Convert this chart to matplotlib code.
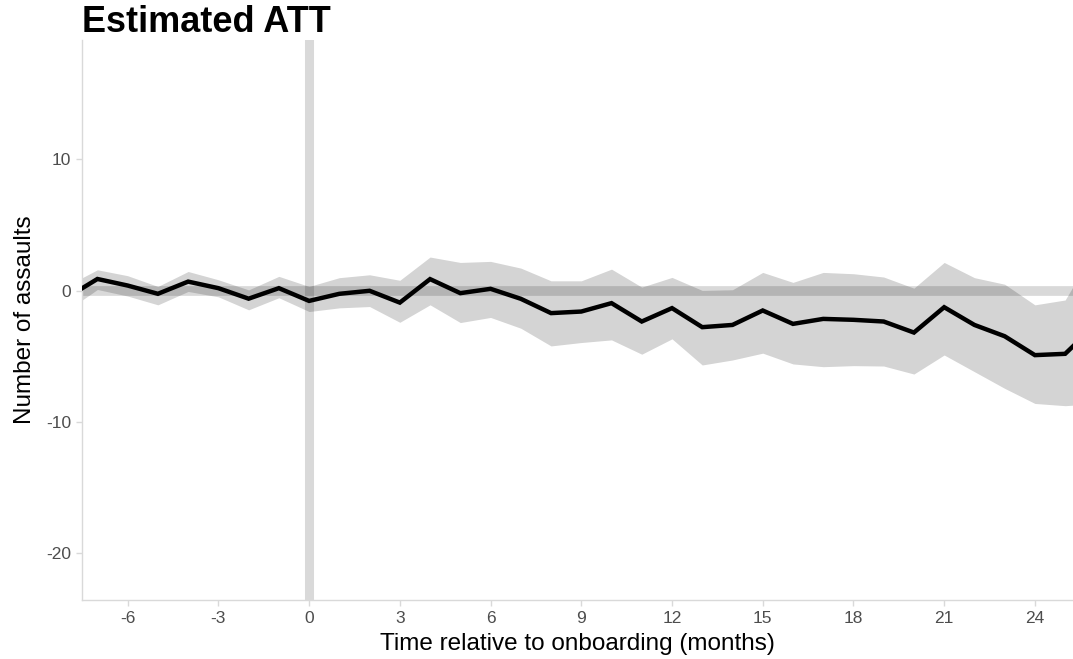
import matplotlib
matplotlib.use("Agg")
import matplotlib.pyplot as plt

# months relative to onboarding
months = list(range(-8, 27))

att = [-0.5, 0.9, 0.4, -0.23, 0.7, 0.2, -0.6, 0.2, -0.77, -0.23, 0.0,
       -0.9, 0.89, -0.18, 0.15, -0.61, -1.7, -1.58, -0.94, -2.34, -1.32,
       -2.77, -2.6, -1.5, -2.52, -2.14, -2.21, -2.34, -3.18, -1.25, -2.6,
       -3.46, -4.9, -4.8, -2.6]

ci_upper = [0.4, 1.6, 1.15, 0.33, 1.47, 0.84, 0.07, 1.1, 0.33, 1.0, 1.22,
            0.8, 2.57, 2.16, 2.24, 1.73, 0.76, 0.76, 1.65, 0.28, 1.02,
            0.03, 0.08, 1.4, 0.64, 1.4, 1.3, 1.05, 0.2, 2.16, 1.0,
            0.5, -1.07, -0.7, 3.2]

ci_lower = [-1.5, 0.1, -0.4, -1.07, -0.05, -0.46, -1.45, -0.53, -1.58, -1.3, -1.2,
            -2.4, -1.07, -2.42, -2.03, -2.85, -4.2, -3.94, -3.74, -4.83, -3.66,
            -5.65, -5.27, -4.75, -5.57, -5.78, -5.7, -5.73, -6.34, -4.89, -6.16,
            -7.43, -8.58, -8.75, -8.6]

x_ticks = [-6, -3, 0, 3, 6, 9, 12, 15, 18, 21, 24]
y_ticks = [-20, -10, 0, 10]

plt.rcParams['font.family'] = ['Liberation Sans', 'DejaVu Sans']
plt.rcParams['axes.unicode_minus'] = False

fig = plt.figure(figsize=(10.73, 6.59), dpi=100)
ax = fig.add_axes([0.0767, 0.0895, 0.9233, 0.8498])

ax.fill_between(months, ci_lower, ci_upper, color='black', alpha=0.17,
                linewidth=0, zorder=1)
ax.axhline(0, color='black', alpha=0.15, linewidth=7, zorder=2)
ax.axvline(0, color='black', alpha=0.15, linewidth=6.5, zorder=2)
ax.plot(months, att, color='black', linewidth=3.2, zorder=3,
        solid_joinstyle='miter')

ax.set_xlim(-7.5, 25.26)
ax.set_ylim(-23.55, 19.1)
ax.set_xticks(x_ticks)
ax.set_yticks(y_ticks)

ax.tick_params(colors='#d9d9d9', labelcolor='#4d4d4d', labelsize=12.5,
               length=4, width=1, pad=4)

for side in ['top', 'right']:
    ax.spines[side].set_visible(False)
for side in ['left', 'bottom']:
    ax.spines[side].set_color('#d9d9d9')
    ax.spines[side].set_linewidth(1)

ax.set_xlabel("Time relative to onboarding (months)", fontsize=17.5,
              color='black', labelpad=5)
ax.set_ylabel("Number of assaults", fontsize=17.5, color='black',
              labelpad=7)
ax.set_title("Estimated ATT", loc='left', fontsize=26,
             fontweight='bold', pad=3)

fig.savefig("out.png", dpi=100)
